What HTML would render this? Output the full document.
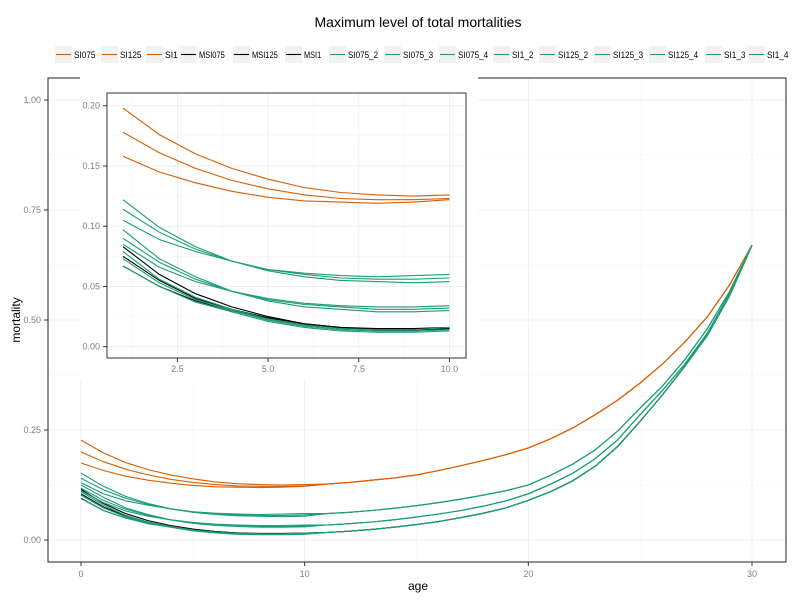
<!DOCTYPE html>
<html><head><meta charset="utf-8"><style>
body{margin:0;background:#fff;width:800px;height:600px;overflow:hidden;font-family:"Liberation Sans",sans-serif}
svg text{font-family:"Liberation Sans",sans-serif}
</style></head><body>
<svg id="c" width="800" height="600"></svg>
<script>
const ages=[0,1,2,3,4,5,6,7,8,9,10,11,12,13,14,15,16,17,18,19,20,21,22,23,24,25,26,27,28,29,30];
const seriesNames=["SI075","SI125","SI1","MSI075","MSI125","MSI1","SI075_2","SI075_3","SI075_4","SI1_2","SI125_2","SI125_3","SI125_4","SI1_3","SI1_4"];
const seriesGroups=["o","o","o","k","k","k","g","g","g","g","g","g","g","g","g"];
const lateOrange=[0.127,0.131,0.136,0.141,0.148,0.158,0.169,0.181,0.194,0.209,0.230,0.255,0.285,0.318,0.357,0.40,0.45,0.507,0.58,0.67];
const lateTop=[0.060,0.063,0.067,0.072,0.078,0.085,0.093,0.102,0.112,0.125,0.147,0.173,0.205,0.248,0.300,0.35,0.41,0.48,0.565,0.67];
const lateMid=[0.034,0.037,0.041,0.046,0.052,0.059,0.067,0.077,0.089,0.105,0.127,0.152,0.185,0.228,0.285,0.34,0.40,0.47,0.56,0.67];
const lateLow=[0.017,0.020,0.024,0.029,0.035,0.042,0.051,0.061,0.073,0.090,0.110,0.135,0.168,0.213,0.270,0.33,0.395,0.465,0.555,0.67];
const earlyValues=[
[0.227,0.198,0.176,0.160,0.148,0.139,0.132,0.128,0.126,0.125,0.126],
[0.200,0.178,0.161,0.148,0.138,0.131,0.126,0.123,0.122,0.122,0.123],
[0.175,0.158,0.145,0.136,0.129,0.124,0.121,0.120,0.119,0.120,0.122],
[0.115,0.083,0.060,0.044,0.033,0.025,0.019,0.016,0.015,0.015,0.016],
[0.105,0.075,0.055,0.040,0.031,0.024,0.019,0.016,0.014,0.014,0.015],
[0.095,0.067,0.050,0.038,0.030,0.023,0.018,0.015,0.014,0.014,0.015],
[0.152,0.122,0.099,0.083,0.071,0.064,0.061,0.059,0.058,0.059,0.060],
[0.140,0.114,0.095,0.081,0.071,0.064,0.060,0.057,0.056,0.056,0.057],
[0.130,0.105,0.089,0.079,0.071,0.063,0.058,0.055,0.054,0.053,0.054],
[0.125,0.097,0.073,0.058,0.046,0.040,0.036,0.034,0.033,0.033,0.034],
[0.118,0.090,0.070,0.056,0.046,0.039,0.035,0.033,0.031,0.031,0.032],
[0.112,0.085,0.066,0.054,0.046,0.038,0.033,0.031,0.029,0.029,0.030],
[0.110,0.079,0.056,0.041,0.031,0.023,0.018,0.015,0.014,0.014,0.016],
[0.102,0.073,0.053,0.039,0.030,0.022,0.017,0.014,0.013,0.013,0.014],
[0.094,0.067,0.050,0.037,0.029,0.021,0.016,0.013,0.012,0.012,0.013]];
const seriesBand=["o","o","o","l","l","l","t","t","t","m","m","m","l","l","l"];
const mainXTicks=[0,10,20,30];
const mainYTicks=[0,0.25,0.5,0.75,1.0];
const mainYLabels=["0.00","0.25","0.50","0.75","1.00"];
const insetXTicks=[2.5,5,7.5,10];
const insetXLabels=["2.5","5.0","7.5","10.0"];
const insetYTicks=[0,0.05,0.1,0.15,0.2];
const insetYLabels=["0.00","0.05","0.10","0.15","0.20"];
const legendKeyX=[55,101,146,180,233,285,329,384,439,493,539,594,649,705,748];

const lateMap={o:lateOrange,t:lateTop,m:lateMid,l:lateLow};
const colors={o:"#D95F02",k:"#000000",g:"#1B9E77"};
const svg=document.getElementById('c');
const NS="http://www.w3.org/2000/svg";
function mk(tag,attrs,parent){const e=document.createElementNS(NS,tag);for(const k in attrs)e.setAttribute(k,attrs[k]);(parent||svg).appendChild(e);return e;}
function fullSeries(i){return earlyValues[i].concat(lateMap[seriesBand[i]]);}

const mx=v=>81+v*(752-81)/30;
const my=v=>540-v*440;
let t=mk('text',{x:418,y:27,'text-anchor':'middle','font-size':14,fill:'#000'});t.textContent="Maximum level of total mortalities";



const mainGrid=mk('g',{});


[5,15,25].forEach(v=>mk('line',{x1:mx(v),x2:mx(v),y1:78,y2:562,stroke:'#f4f4f4','stroke-width':0.6},mainGrid));
[0.125,0.375,0.625,0.875].forEach(v=>mk('line',{x1:48,x2:786,y1:my(v),y2:my(v),stroke:'#f4f4f4','stroke-width':0.6},mainGrid));
mainXTicks.forEach(v=>mk('line',{x1:mx(v),x2:mx(v),y1:78,y2:562,stroke:'#ebebeb','stroke-width':0.8},mainGrid));
mainYTicks.forEach(v=>mk('line',{x1:48,x2:786,y1:my(v),y2:my(v),stroke:'#ebebeb','stroke-width':0.8},mainGrid));
const border=mk('rect',{x:48,y:78,width:738,height:484,fill:'none',stroke:'#222','stroke-width':1});


mainXTicks.forEach(v=>{mk('line',{x1:mx(v),x2:mx(v),y1:562,y2:566,stroke:'#333'});
 const e=mk('text',{x:mx(v),y:577,'text-anchor':'middle','font-size':9,fill:'#7f7f7f'});e.textContent=v;
 
 });
mainYTicks.forEach((v,i)=>{mk('line',{x1:44,x2:48,y1:my(v),y2:my(v),stroke:'#333'});
 const e=mk('text',{x:41,y:my(v)+3,'text-anchor':'end','font-size':9,fill:'#7f7f7f'});e.textContent=mainYLabels[i];
 
 });
t=mk('text',{x:418,y:590,'text-anchor':'middle','font-size':12});t.textContent="age";


t=mk('text',{x:0,y:0,'text-anchor':'middle','font-size':12,transform:'translate(20,320) rotate(-90)'});t.textContent="mortality";



seriesNames.forEach((n,i)=>{
 const vals=fullSeries(i);
 const d=ages.map((a,j)=>(j?'L':'M')+mx(a).toFixed(1)+','+my(vals[j]).toFixed(1)).join('');
 const p=mk('path',{d:d,fill:'none',stroke:colors[seriesGroups[i]],'stroke-width':1.1});
 
 
});

const ix=v=>123+(v-1)*36.27;
const iy=v=>346.7-v*1205;
const ibg=mk('rect',{x:80,y:76,width:398,height:304,fill:'#fff'});


const ig=mk('g',{});


[1.25,3.75,6.25,8.75].forEach(v=>mk('line',{x1:ix(v),x2:ix(v),y1:93,y2:358,stroke:'#f4f4f4','stroke-width':0.6},ig));
[0.025,0.075,0.125,0.175].forEach(v=>mk('line',{x1:107,x2:466,y1:iy(v),y2:iy(v),stroke:'#f4f4f4','stroke-width':0.6},ig));
insetXTicks.forEach(v=>mk('line',{x1:ix(v),x2:ix(v),y1:93,y2:358,stroke:'#ebebeb','stroke-width':0.8},ig));
insetYTicks.forEach(v=>mk('line',{x1:107,x2:466,y1:iy(v),y2:iy(v),stroke:'#ebebeb','stroke-width':0.8},ig));
const ib=mk('rect',{x:107,y:93,width:359,height:265,fill:'none',stroke:'#333','stroke-width':1});


insetXTicks.forEach((v,i)=>{mk('line',{x1:ix(v),x2:ix(v),y1:358,y2:362,stroke:'#333'});
 const e=mk('text',{x:ix(v),y:372,'text-anchor':'middle','font-size':9,fill:'#7f7f7f'});e.textContent=insetXLabels[i];
 
 });
insetYTicks.forEach((v,i)=>{mk('line',{x1:103,x2:107,y1:iy(v),y2:iy(v),stroke:'#333'});
 const e=mk('text',{x:100,y:iy(v)+3,'text-anchor':'end','font-size':9,fill:'#7f7f7f'});e.textContent=insetYLabels[i];
 
 });
seriesNames.forEach((n,i)=>{
 const vals=fullSeries(i);
 let d='';
 for(let j=1;j<=10;j++){d+=(j>1?'L':'M')+ix(ages[j]).toFixed(1)+','+iy(vals[j]).toFixed(1);}
 const p=mk('path',{d:d,fill:'none',stroke:colors[seriesGroups[i]],'stroke-width':1.1});
 
 
});

const lg=mk('g',{});


seriesNames.forEach((n,i)=>{
 const lx=legendKeyX[i];
 const g=mk('g',{},lg);
 
 
 mk('rect',{x:lx,y:46,width:17,height:17,fill:'#f2f2f2'},g);
 mk('line',{x1:lx+1,x2:lx+16,y1:54.5,y2:54.5,stroke:colors[seriesGroups[i]],'stroke-width':1.1},g);
 const e=mk('text',{x:lx+19,y:58,'font-size':9,fill:'#000',textLength:(n.length*4.3).toFixed(1),lengthAdjust:'spacingAndGlyphs'},g);e.textContent=n;
});
</script>
</body></html>
